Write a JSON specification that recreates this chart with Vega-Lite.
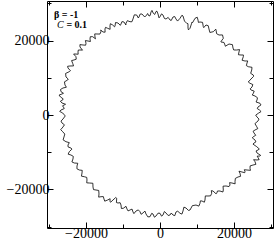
{
"$schema": "https://vega.github.io/schema/vega-lite/v6.json",
"width": 226, "height": 227,
"autosize": {"type": "none"},
"padding": {"left": 47, "top": 1, "right": 1, "bottom": 15},
"background": "white",
"config": {"view": {"stroke": "black", "strokeWidth": 1},
  "axis": {"labelFont": "Liberation Serif", "labelFontSize": 14, "labelColor": "black", "tickColor": "black", "tickWidth": 1, "domain": false, "grid": false, "title": null}},
"layer": [
{
"data": {"values": [
{"i":1,"x":-26300,"y":540},{"i":1.5,"x":-27110,"y":960},{"i":2,"x":-26760,"y":1340},{"i":2.5,"x":-25890,"y":1710},{"i":3,"x":-26080,"y":2150},{"i":3.5,"x":-26365,"y":2456},{"i":4,"x":-25870,"y":2690},{"i":4.5,"x":-25525,"y":2881},{"i":5,"x":-26490,"y":3220},{"i":5.5,"x":-26923,"y":3698},
{"i":6,"x":-26300,"y":4030},{"i":6.5,"x":-26196,"y":4364},{"i":7,"x":-26890,"y":4830},{"i":7.5,"x":-27277,"y":5350},{"i":8,"x":-26490,"y":5640},{"i":8.5,"x":-26093,"y":5831},{"i":9,"x":-26760,"y":6260},{"i":9.5,"x":-26887,"y":6856},{"i":10,"x":-26220,"y":7250},{"i":10.5,"x":-25301,"y":7464},
{"i":11,"x":-25680,"y":8060},{"i":11.5,"x":-25821,"y":8905},{"i":12,"x":-24950,"y":9400},{"i":12.5,"x":-24802,"y":9653},{"i":13,"x":-25410,"y":10200},{"i":13.5,"x":-25514,"y":11155},{"i":14,"x":-24520,"y":11630},{"i":14.5,"x":-24201,"y":11883},{"i":15,"x":-24870,"y":12620},{"i":15.5,"x":-24969,"y":13083},
{"i":16,"x":-24330,"y":13160},{"i":16.5,"x":-23366,"y":13182},{"i":17,"x":-23600,"y":13880},{"i":17.5,"x":-23894,"y":14612},{"i":18,"x":-23250,"y":14770},{"i":18.5,"x":-22635,"y":14982},{"i":19,"x":-22710,"y":15650},{"i":19.5,"x":-23348,"y":16367},{"i":20,"x":-22980,"y":16380},{"i":20.5,"x":-22119,"y":16317},
{"i":21,"x":-22160,"y":16920},{"i":21.5,"x":-22081,"y":17443},{"i":22,"x":-21350,"y":17450},{"i":22.5,"x":-20948,"y":17409},{"i":23,"x":-21620,"y":18260},{"i":23.5,"x":-21639,"y":18901},{"i":24,"x":-20810,"y":18800},{"i":24.5,"x":-20099,"y":18740},{"i":25,"x":-20000,"y":19250},{"i":25.5,"x":-20164,"y":19990},
{"i":26,"x":-19460,"y":19870},{"i":26.5,"x":-18806,"y":19737},{"i":27,"x":-18920,"y":20410},{"i":27.5,"x":-18833,"y":21026},{"i":28,"x":-18190,"y":21020},{"i":28.5,"x":-17433,"y":20456},{"i":29,"x":-17570,"y":20940},{"i":29.5,"x":-17646,"y":21772},{"i":30,"x":-17030,"y":21750},{"i":30.5,"x":-16243,"y":21729},
{"i":31,"x":-15950,"y":22370},{"i":31.5,"x":-16025,"y":22821},{"i":32,"x":-15410,"y":22290},{"i":32.5,"x":-14837,"y":22236},{"i":33,"x":-14870,"y":23090},{"i":33.5,"x":-14723,"y":23533},{"i":34,"x":-14140,"y":23280},{"i":34.5,"x":-13484,"y":23000},{"i":35,"x":-13520,"y":23900},{"i":35.5,"x":-13418,"y":24516},
{"i":36,"x":-12790,"y":24170},{"i":36.5,"x":-12288,"y":23674},{"i":37,"x":-12160,"y":23900},{"i":37.5,"x":-12014,"y":24835},{"i":38,"x":-11350,"y":24700},{"i":38.5,"x":-10726,"y":24074},{"i":39,"x":-10540,"y":24430},{"i":39.5,"x":-10287,"y":25071},{"i":40,"x":-9730,"y":24970},{"i":40.5,"x":-9224,"y":24175},
{"i":41,"x":-9190,"y":24620},{"i":41.5,"x":-8823,"y":25332},{"i":42,"x":-8110,"y":25050},{"i":42.5,"x":-7589,"y":25034},{"i":43,"x":-7300,"y":25780},{"i":43.5,"x":-6950,"y":26894},{"i":44,"x":-6300,"y":26850},{"i":44.5,"x":-5870,"y":26048},{"i":45,"x":-5680,"y":26310},{"i":45.5,"x":-5354,"y":27116},
{"i":46,"x":-4870,"y":27120},{"i":46.5,"x":-4129,"y":26310},{"i":47,"x":-3600,"y":26850},{"i":47.5,"x":-3351,"y":27249},{"i":48,"x":-2970,"y":26580},{"i":48.5,"x":-2660,"y":26713},{"i":49,"x":-2430,"y":27660},{"i":49.5,"x":-2167,"y":28090},{"i":50,"x":-1810,"y":27310},{"i":50.5,"x":-1416,"y":26999},
{"i":51,"x":-1080,"y":27790},{"i":51.5,"x":-822,"y":27867},{"i":52,"x":-540,"y":27120},{"i":52.5,"x":-263,"y":26086},{"i":53,"x":0,"y":26390},{"i":53.5,"x":413,"y":27152},{"i":54,"x":810,"y":26850},{"i":54.5,"x":1197,"y":25920},{"i":55,"x":1620,"y":25780},{"i":55.5,"x":2208,"y":26209},
{"i":56,"x":2700,"y":25510},{"i":56.5,"x":3043,"y":25392},{"i":57,"x":3510,"y":26310},{"i":57.5,"x":3974,"y":26436},{"i":58,"x":4320,"y":25780},{"i":58.5,"x":4743,"y":25223},{"i":59,"x":5410,"y":25960},{"i":59.5,"x":5931,"y":26795},{"i":60,"x":6220,"y":26580},{"i":60.5,"x":6619,"y":25216},
{"i":61,"x":7220,"y":24620},{"i":61.5,"x":7558,"y":24518},{"i":62,"x":7570,"y":23360},{"i":62.5,"x":7683,"y":22854},{"i":63,"x":8110,"y":23280},{"i":63.5,"x":8506,"y":24487},{"i":64,"x":8650,"y":24970},{"i":64.5,"x":8829,"y":24828},{"i":65,"x":9460,"y":25960},{"i":65.5,"x":10062,"y":26250},
{"i":66,"x":10270,"y":25510},{"i":66.5,"x":10382,"y":24861},{"i":67,"x":10810,"y":24970},{"i":67.5,"x":11503,"y":24875},{"i":68,"x":11700,"y":23710},{"i":68.5,"x":11824,"y":23461},{"i":69,"x":12430,"y":24170},{"i":69.5,"x":13028,"y":23984},{"i":70,"x":13240,"y":23090},{"i":70.5,"x":13479,"y":22162},
{"i":71,"x":14410,"y":22370},{"i":71.5,"x":15071,"y":23047},{"i":72,"x":15140,"y":22820},{"i":72.5,"x":15312,"y":21818},{"i":73,"x":15950,"y":21480},{"i":73.5,"x":16894,"y":21498},{"i":74,"x":17110,"y":20590},{"i":74.5,"x":16464,"y":19693},{"i":75,"x":16490,"y":19600},{"i":75.5,"x":17285,"y":19488},
{"i":76,"x":17570,"y":18800},{"i":76.5,"x":17657,"y":18457},{"i":77,"x":18650,"y":19060},{"i":77.5,"x":19574,"y":18896},{"i":78,"x":19730,"y":17990},{"i":78.5,"x":19927,"y":17454},{"i":79,"x":20730,"y":17450},{"i":79.5,"x":21503,"y":17563},{"i":80,"x":21350,"y":16920},{"i":80.5,"x":21188,"y":16185},
{"i":81,"x":21890,"y":16110},{"i":81.5,"x":22538,"y":16118},{"i":82,"x":22520,"y":15650},{"i":82.5,"x":22181,"y":14698},{"i":83,"x":22980,"y":14500},{"i":83.5,"x":23715,"y":14515},{"i":84,"x":23520,"y":13960},{"i":84.5,"x":23340,"y":13263},{"i":85,"x":23870,"y":12970},{"i":85.5,"x":24865,"y":12801},
{"i":86,"x":24790,"y":12080},{"i":86.5,"x":24505,"y":11182},{"i":87,"x":25220,"y":10740},{"i":87.5,"x":25284,"y":10358},{"i":88,"x":24600,"y":9670},{"i":88.5,"x":23853,"y":8863},{"i":89,"x":24330,"y":8510},{"i":89.5,"x":25092,"y":8175},{"i":90,"x":24870,"y":7520},{"i":90.5,"x":24364,"y":7008},
{"i":91,"x":24600,"y":6710},{"i":91.5,"x":25458,"y":6408},{"i":92,"x":25220,"y":5830},{"i":92.5,"x":24941,"y":5356},{"i":93,"x":25680,"y":5100},{"i":93.5,"x":26339,"y":4633},{"i":94,"x":26220,"y":4030},{"i":94.5,"x":25959,"y":3495},{"i":95,"x":27030,"y":3140},{"i":95.5,"x":27295,"y":2698},
{"i":96,"x":26490,"y":2150},{"i":96.5,"x":26290,"y":1719},{"i":97,"x":26890,"y":1340},{"i":97.5,"x":27318,"y":920},{"i":98,"x":26570,"y":460},{"i":98.5,"x":25867,"y":-39},{"i":99,"x":26220,"y":-540},{"i":99.5,"x":26750,"y":-1091},{"i":100,"x":26490,"y":-1610},{"i":100.5,"x":25657,"y":-2316},
{"i":101,"x":26140,"y":-3140},{"i":101.5,"x":26428,"y":-3657},{"i":102,"x":25680,"y":-4030},{"i":102.5,"x":25162,"y":-4364},{"i":103,"x":25410,"y":-4830},{"i":103.5,"x":25872,"y":-5447},{"i":104,"x":25220,"y":-5830},{"i":104.5,"x":24941,"y":-6145},{"i":105,"x":25680,"y":-6710},{"i":105.5,"x":25928,"y":-7222},
{"i":106,"x":25410,"y":-7520},{"i":106.5,"x":25131,"y":-7815},{"i":107,"x":26140,"y":-8510},{"i":107.5,"x":26841,"y":-9134},{"i":108,"x":26490,"y":-9400},{"i":108.5,"x":25960,"y":-9653},{"i":109,"x":26220,"y":-10200},{"i":109.5,"x":27211,"y":-10838},{"i":110,"x":27030,"y":-11010},{"i":110.5,"x":26264,"y":-11054},
{"i":111,"x":26570,"y":-11550},{"i":111.5,"x":26791,"y":-11992},{"i":112,"x":26220,"y":-12080},{"i":112.5,"x":25301,"y":-12002},{"i":113,"x":25680,"y":-12540},{"i":113.5,"x":25918,"y":-13245},{"i":114,"x":25140,"y":-13430},{"i":114.5,"x":24364,"y":-13662},{"i":115,"x":24330,"y":-14310},{"i":115.5,"x":24451,"y":-14860},
{"i":116,"x":23520,"y":-14770},{"i":116.5,"x":22785,"y":-14695},{"i":117,"x":22980,"y":-15220},{"i":117.5,"x":22909,"y":-15489},{"i":118,"x":22160,"y":-15300},{"i":118.5,"x":21343,"y":-15088},{"i":119,"x":21620,"y":-15650},{"i":119.5,"x":21777,"y":-16473},{"i":120,"x":21080,"y":-16650},{"i":120.5,"x":20365,"y":-17021},
{"i":121,"x":20270,"y":-17910},{"i":121.5,"x":20302,"y":-18483},{"i":122,"x":19460,"y":-18260},{"i":122.5,"x":18806,"y":-18159},{"i":123,"x":18920,"y":-18800},{"i":123.5,"x":18656,"y":-19214},{"i":124,"x":17840,"y":-19060},{"i":124.5,"x":17038,"y":-19110},{"i":125,"x":17110,"y":-20140},{"i":125.5,"x":16998,"y":-20681},
{"i":126,"x":16220,"y":-20410},{"i":126.5,"x":15538,"y":-20404},{"i":127,"x":15330,"y":-21020},{"i":127.5,"x":15156,"y":-21171},{"i":128,"x":14330,"y":-20410},{"i":128.5,"x":13867,"y":-20301},{"i":129,"x":13970,"y":-21020},{"i":129.5,"x":13672,"y":-21706},{"i":130,"x":12970,"y":-21750},{"i":130.5,"x":12251,"y":-21728},
{"i":131,"x":12160,"y":-22820},{"i":131.5,"x":11990,"y":-23414},{"i":132,"x":11350,"y":-23090},{"i":132.5,"x":10914,"y":-23049},{"i":133,"x":10810,"y":-23710},{"i":133.5,"x":10496,"y":-24467},{"i":134,"x":9730,"y":-24170},{"i":134.5,"x":8742,"y":-24343},{"i":135,"x":8110,"y":-25510},{"i":135.5,"x":7684,"y":-25619},
{"i":136,"x":7030,"y":-24970},{"i":136.5,"x":6459,"y":-24741},{"i":137,"x":6220,"y":-25780},{"i":137.5,"x":5931,"y":-26607},{"i":138,"x":5410,"y":-26390},{"i":138.5,"x":4792,"y":-25822},{"i":139,"x":4320,"y":-26040},{"i":139.5,"x":4001,"y":-27027},{"i":140,"x":3510,"y":-26850},{"i":140.5,"x":3043,"y":-26313},
{"i":141,"x":2700,"y":-26850},{"i":141.5,"x":2192,"y":-26979},{"i":142,"x":1620,"y":-26310},{"i":142.5,"x":1185,"y":-25916},{"i":143,"x":810,"y":-26850},{"i":143.5,"x":413,"y":-27152},{"i":144,"x":0,"y":-26390},{"i":144.5,"x":-532,"y":-26354},{"i":145,"x":-1080,"y":-27120},{"i":145.5,"x":-1518,"y":-27441},
{"i":146,"x":-1890,"y":-26580},{"i":146.5,"x":-2249,"y":-26406},{"i":147,"x":-2700,"y":-27310},{"i":147.5,"x":-3289,"y":-27349},{"i":148,"x":-3780,"y":-26580},{"i":148.5,"x":-4085,"y":-25784},{"i":149,"x":-4600,"y":-26310},{"i":149.5,"x":-5105,"y":-26658},{"i":150,"x":-5410,"y":-25960},{"i":150.5,"x":-5861,"y":-25482},
{"i":151,"x":-6490,"y":-25780},{"i":151.5,"x":-7047,"y":-26480},{"i":152,"x":-7300,"y":-26040},{"i":152.5,"x":-7551,"y":-25260},{"i":153,"x":-8110,"y":-25510},{"i":153.5,"x":-8643,"y":-25756},{"i":154,"x":-8920,"y":-25240},{"i":154.5,"x":-9185,"y":-24516},{"i":155,"x":-9920,"y":-25050},{"i":155.5,"x":-10435,"y":-25102},
{"i":156,"x":-10540,"y":-24170},{"i":156.5,"x":-10781,"y":-23542},{"i":157,"x":-11350,"y":-23630},{"i":157.5,"x":-11779,"y":-23506},{"i":158,"x":-11700,"y":-22370},{"i":158.5,"x":-11956,"y":-22143},{"i":159,"x":-12700,"y":-22820},{"i":159.5,"x":-13307,"y":-23396},{"i":160,"x":-13520,"y":-23280},{"i":160.5,"x":-13484,"y":-22474},
{"i":161,"x":-14140,"y":-22820},{"i":161.5,"x":-14933,"y":-23139},{"i":162,"x":-15140,"y":-22550},{"i":162.5,"x":-15312,"y":-21911},{"i":163,"x":-15950,"y":-21940},{"i":163.5,"x":-16577,"y":-22050},{"i":164,"x":-16490,"y":-21210},{"i":164.5,"x":-16557,"y":-20262},{"i":165,"x":-17300,"y":-20140},{"i":165.5,"x":-17971,"y":-20031},
{"i":166,"x":-18110,"y":-19330},{"i":166.5,"x":-18145,"y":-18325},{"i":167,"x":-19110,"y":-18260},{"i":167.5,"x":-19808,"y":-18212},{"i":168,"x":-19730,"y":-17450},{"i":168.5,"x":-19794,"y":-16755},{"i":169,"x":-20460,"y":-16570},{"i":169.5,"x":-21227,"y":-16424},{"i":170,"x":-21080,"y":-15570},{"i":170.5,"x":-21016,"y":-14867},
{"i":171,"x":-21810,"y":-14770},{"i":171.5,"x":-22452,"y":-14443},{"i":172,"x":-22430,"y":-13690},{"i":172.5,"x":-22225,"y":-12958},{"i":173,"x":-23160,"y":-12890},{"i":173.5,"x":-23807,"y":-12597},{"i":174,"x":-23520,"y":-11810},{"i":174.5,"x":-23433,"y":-11106},{"i":175,"x":-24060,"y":-10740},{"i":175.5,"x":-24824,"y":-10521},
{"i":176,"x":-24520,"y":-9850},{"i":176.5,"x":-23804,"y":-9168},{"i":177,"x":-24060,"y":-8860},{"i":177.5,"x":-24832,"y":-8587},{"i":178,"x":-24870,"y":-8060},{"i":178.5,"x":-24512,"y":-7425},{"i":179,"x":-25410,"y":-7170},{"i":179.5,"x":-26194,"y":-6671},{"i":180,"x":-25950,"y":-5910},{"i":180.5,"x":-25733,"y":-5117},
{"i":181,"x":-26300,"y":-4480},{"i":181.5,"x":-26838,"y":-3935},{"i":182,"x":-26220,"y":-3220},{"i":182.5,"x":-25828,"y":-2631},{"i":183,"x":-26490,"y":-2150},{"i":183.5,"x":-26750,"y":-1634},{"i":184,"x":-26220,"y":-1070},{"i":184.5,"x":-25604,"y":-258},{"i":185,"x":-26300,"y":540}
]},
"mark": {"type": "line", "color": "black", "strokeWidth": 0.8},
"encoding": {
  "x": {"field": "x", "type": "quantitative", "scale": {"domain": [-30540, 30540], "nice": false, "zero": false},
    "axis": {"orient": "bottom", "values": [-30000,-20000,-10000,0,10000,20000,30000], "format": "d",
      "labelExpr": "datum.value % 20000 === 0 ? datum.label : ''",
      "tickSize": {"condition": {"test": "datum.value % 20000 === 0", "value": -6}, "value": -4}, "labelPadding": 4}},
  "y": {"field": "y", "type": "quantitative", "scale": {"domain": [-30340, 30610], "nice": false, "zero": false},
    "axis": {"orient": "left", "values": [-30000,-20000,-10000,0,10000,20000,30000], "format": "d",
      "labelExpr": "datum.value % 20000 === 0 ? datum.label : ''",
      "tickSize": {"condition": {"test": "datum.value % 20000 === 0", "value": -6}, "value": -4}, "labelPadding": 4}},
  "order": {"field": "i", "type": "quantitative"}
}
},
{
"data": {"values": [{"t": "β = -1"}]},
"mark": {"type": "text", "font": "Liberation Serif", "fontSize": 10, "fontWeight": "bold", "align": "left", "baseline": "alphabetic", "color": "black"},
"encoding": {
  "x": {"datum": -28650, "type": "quantitative", "axis": {"orient": "top", "labels": false, "values": [-30000,-20000,-10000,0,10000,20000,30000],
      "tickSize": {"condition": {"test": "datum.value % 20000 === 0", "value": -6}, "value": -4}}},
  "y": {"datum": 26100, "type": "quantitative", "axis": {"orient": "right", "labels": false, "values": [-30000,-20000,-10000,0,10000,20000,30000],
      "tickSize": {"condition": {"test": "datum.value % 20000 === 0", "value": -6}, "value": -4}}},
  "text": {"field": "t"}
}
},
{
"data": {"values": [{"t": "C"}]},
"mark": {"type": "text", "font": "Liberation Serif", "fontSize": 10, "fontStyle": "italic", "align": "left", "baseline": "alphabetic", "color": "black"},
"encoding": {
  "x": {"datum": -27840, "type": "quantitative", "axis": null},
  "y": {"datum": 23250, "type": "quantitative", "axis": null},
  "text": {"field": "t"}
}
},
{
"data": {"values": [{"t": "= 0.1"}]},
"mark": {"type": "text", "font": "Liberation Serif", "fontSize": 10, "fontWeight": "bold", "align": "left", "baseline": "alphabetic", "color": "black"},
"encoding": {
  "x": {"datum": -25300, "type": "quantitative", "axis": null},
  "y": {"datum": 23250, "type": "quantitative", "axis": null},
  "text": {"field": "t"}
}
}
],
"resolve": {"axis": {"x": "independent", "y": "independent"}}
}
